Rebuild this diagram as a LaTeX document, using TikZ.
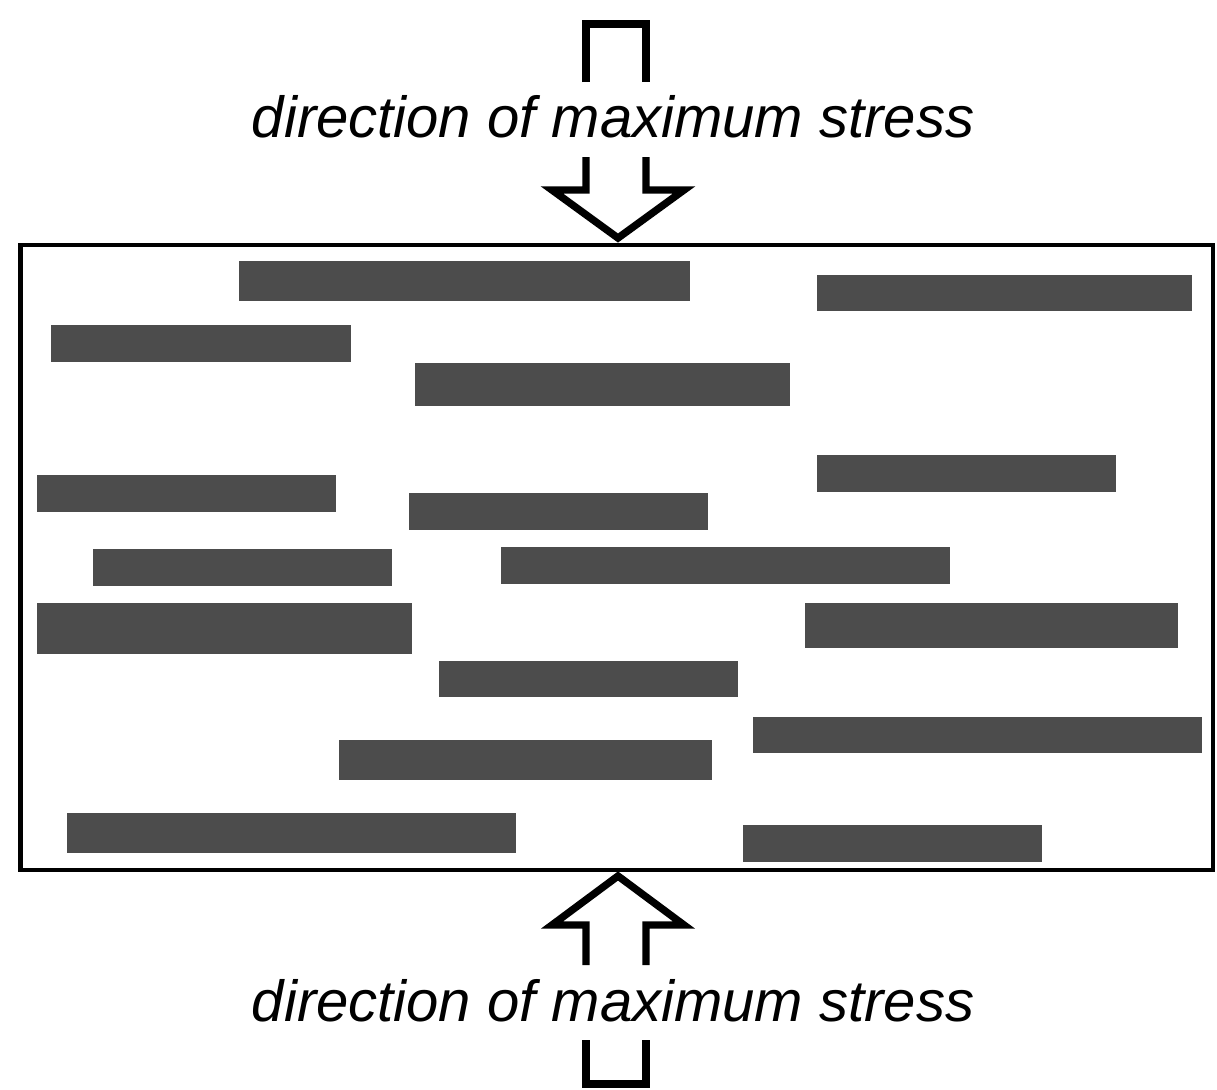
\documentclass[tikz,border=0pt]{standalone}
\usepackage{fontspec}
\setmainfont{Liberation Sans}
\usepackage{tikz}

\begin{document}
\begin{tikzpicture}[x=0.01cm, y=-0.01cm,
		fibre/.style={fill=black!70},
		frame/.style={draw=black, line width=1.15pt},
		stressarrow/.style={draw=black, line width=2.1pt},
		stresslabel/.style={font=\fontsize{16.5}{20}\selectfont\itshape, inner sep=0pt}]
		\useasboundingbox (0,0) rectangle (1217,1090);

		% specimen
		\draw[frame] (20.5,245) rectangle (1213,870);

		% fibres
		\foreach \xa/\ya/\xb/\yb in {239/261/690/301, 817/275/1192/311, 51/325/351/362,
			415/363/790/406, 817/455/1116/492, 37/475/336/512, 409/493/708/530,
			93/549/392/586, 501/547/950/584, 37/603/412/654, 805/603/1178/648,
			439/661/738/697, 753/717/1202/753, 339/740/712/780, 67/813/516/853,
			743/825/1042/862}
			\fill[fibre] (\xa,\ya) rectangle (\xb,\yb);

		% top arrow
		\node[stresslabel] (toplabel) at (613,117) {direction of maximum stress};
		\draw[stressarrow] (586,82) -- (586,24) -- (646,24) -- (646,82);
		\draw[stressarrow] (586,157) -- (586,190) -- (552,190) -- (618,238) -- (684,190) -- (646,190) -- (646,157);

		% bottom arrow
		\node[stresslabel] (botlabel) at (613,1001) {direction of maximum stress};
		\draw[stressarrow] (586,1040) -- (586,1084) -- (646,1084) -- (646,1040);
		\draw[stressarrow] (586,965) -- (586,925) -- (552,925) -- (618,876) -- (684,925) -- (646,925) -- (646,965);
	\end{tikzpicture}
\end{document}
